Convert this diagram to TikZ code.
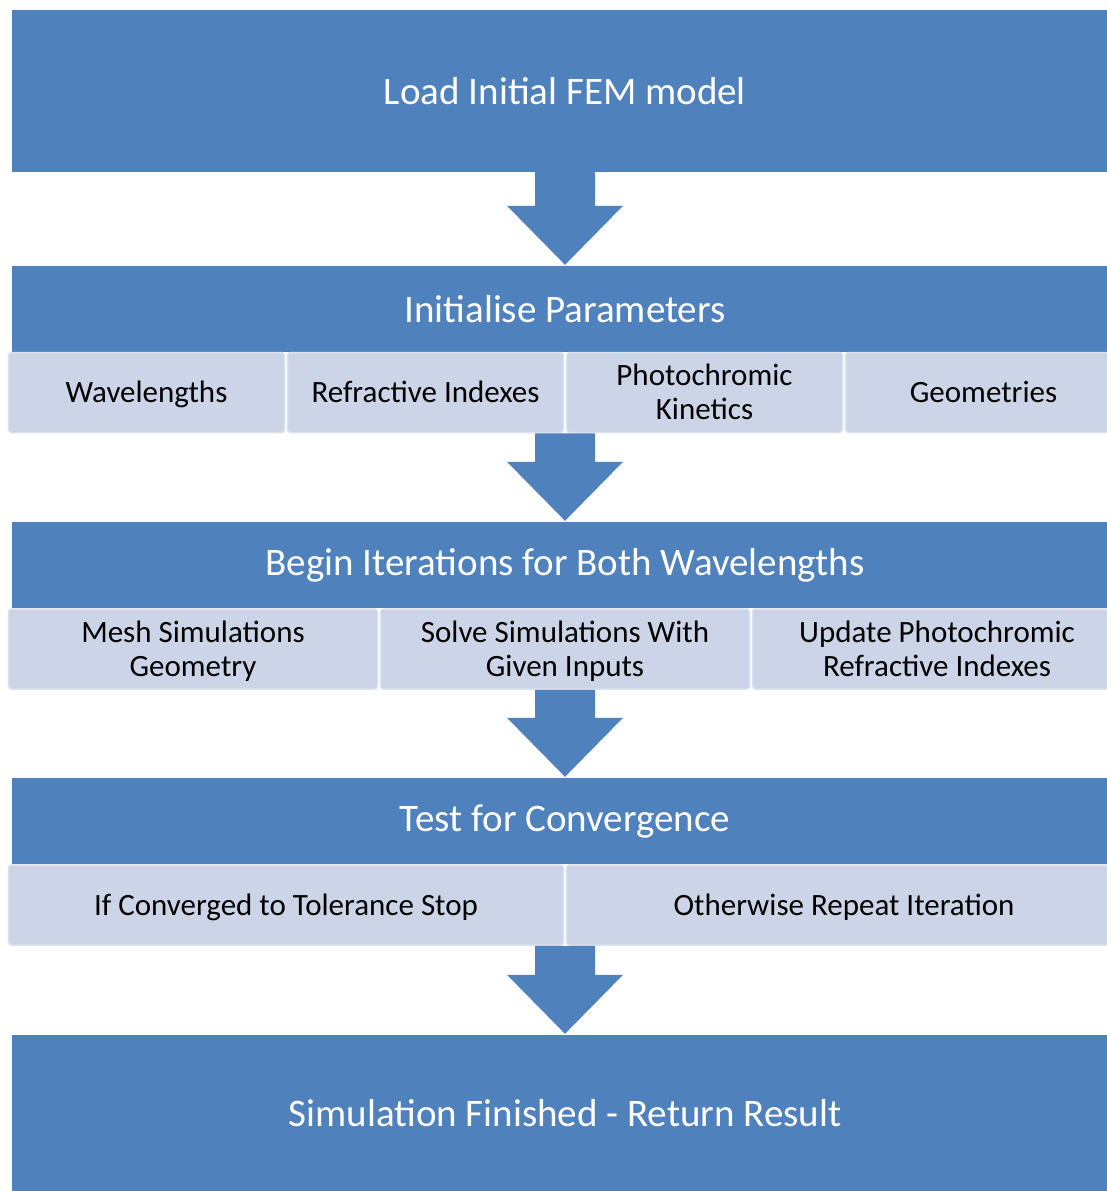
\documentclass[tikz,border=0pt]{standalone}
\usepackage{fontspec}
\setmainfont{Carlito}
\usetikzlibrary{positioning, calc}
\definecolor{boxblue}{RGB}{79,129,189}
\definecolor{cellfill}{RGB}{204,213,231}
\definecolor{celledge}{RGB}{219,225,238}

\newcommand{\celltext}[1]{\rule{0pt}{30pt}#1\rule[-10pt]{0pt}{10pt}}
\tikzset{
  stage/.style={rectangle, fill=boxblue, text=white, minimum width=1106pt,
                inner sep=0pt, font=\fontsize{39}{44}\selectfont},
  cell/.style={rectangle, rounded corners=3pt, fill=cellfill, draw=celledge,
               line width=1.5pt, text=black, minimum height=80pt, inner sep=0pt,
               align=center, font=\fontsize{31}{34}\selectfont},
}
% block arrow from one point down to the next box
\newcommand{\blockarrow}[2]{%
  \fill[boxblue] let \p1=(#1), \p2=(#2) in
    (\x1-30pt,\y1) -- (\x1+30pt,\y1) -- (\x1+30pt,\y2+60pt) -- (\x1+58pt,\y2+60pt)
    -- (\x1,\y2+1pt) -- (\x1-58pt,\y2+60pt) -- (\x1-30pt,\y2+60pt) -- cycle;}

\begin{document}
\begin{tikzpicture}[x=1pt, y=-1pt]
    \useasboundingbox (0,0) rectangle (1107,1191);
    \clip (0,0) rectangle (1107,1191);

    % main stages
    \node[stage, minimum height=162pt] (load) at (565,91) {Load Initial FEM model};
    \node[stage, minimum height=86pt] (init) at (565,309) {Initialise Parameters};
    \node[stage, minimum height=86pt] (iter) at (565,565) {Begin Iterations for Both Wavelengths};
    \node[stage, minimum height=86pt] (conv) at (565,821) {Test for Convergence};
    \node[stage, minimum height=156pt] (done) at (565,1113) {Simulation Finished - Return Result};

    % sub steps
    \foreach \t [count=\i] in {Wavelengths, Refractive Indexes,
                               Photochromic\\Kinetics, Geometries}{
      \node[cell, minimum width=276pt] (p\i) at (146.5+279*\i-279,392.5) {\celltext{\t}};
    }
    \foreach \t [count=\i] in {Mesh Simulations\\Geometry, Solve Simulations With\\Given Inputs,
                               Update Photochromic\\Refractive Indexes}{
      \node[cell, minimum width=369pt] (it\i) at (193+372*\i-372,649) {\celltext{\t}};
    }
    \foreach \t [count=\i] in {If Converged to Tolerance Stop, Otherwise Repeat Iteration}{
      \node[cell, minimum width=555pt] (cv\i) at (286+558*\i-558,905) {\celltext{\t}};
    }

    % arrows
    \blockarrow{load.south}{init.north}
    \blockarrow{init.center |- p1.south}{iter.north}
    \blockarrow{iter.center |- it1.south}{conv.north}
    \blockarrow{conv.center |- cv1.south}{done.north}
\end{tikzpicture}
\end{document}
